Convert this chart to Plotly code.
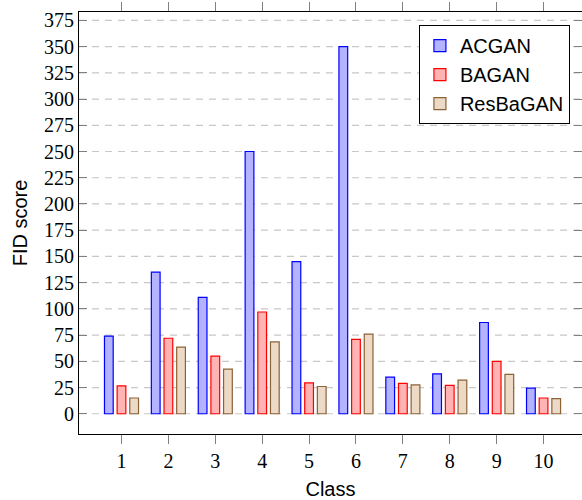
import plotly.graph_objects as go

classes = [1, 2, 3, 4, 5, 6, 7, 8, 9, 10]
acgan = [74, 135, 111, 250, 145, 350, 35, 38, 87, 24.5]
bagan = [26.5, 72, 55, 97, 29.5, 71, 29, 27, 50, 15]
resbagan = [15, 63.5, 42.5, 68.5, 26, 76, 27.5, 32, 37.5, 14.5]
yticks = list(range(0, 376, 25))

series = [
    ("ACGAN", acgan, "rgb(179,179,255)", "rgb(0,0,255)"),
    ("BAGAN", bagan, "rgb(255,179,179)", "rgb(255,0,0)"),
    ("ResBaGAN", resbagan, "rgb(236,217,198)", "rgb(140,98,55)"),
]

fig = go.Figure()
for name, vals, fill, edge in series:
    fig.add_trace(go.Bar(
        x=classes, y=vals, name=name,
        marker=dict(color=fill, line=dict(color=edge, width=1.2)),
    ))

# dashed horizontal grid lines
for t in yticks:
    fig.add_shape(type="line", xref="paper", x0=0, x1=1, yref="y", y0=t, y1=t,
                  line=dict(color="rgb(200,200,200)", width=1.2, dash="7px,6px"),
                  layer="below")

fig.update_layout(
    width=582, height=500,
    margin=dict(l=79, r=0, t=12, b=66),
    plot_bgcolor="white", paper_bgcolor="white",
    barmode="group", bargap=0.19, bargroupgap=0.31,
    showlegend=True,
    legend=dict(
        x=0.976, y=0.969, xanchor="right", yanchor="top",
        bordercolor="black", borderwidth=1, bgcolor="white",
        font=dict(family="Liberation Sans, Arial, sans-serif", size=20, color="black"),
        itemwidth=30, tracegroupgap=0,
    ),
    font=dict(family="Liberation Sans, Arial, sans-serif", color="black"),
)

fig.update_xaxes(
    range=[0.094, 10.82],
    tickmode="array", tickvals=classes, ticktext=[str(c) for c in classes],
    ticks="outside", ticklen=9, tickcolor="rgb(128,128,128)", tickwidth=1,
    showline=True, linecolor="black", linewidth=1.2, mirror="allticks",
    showgrid=False, zeroline=False,
    tickfont=dict(family="Liberation Serif, serif", size=20, color="black"),
    title=dict(text="Class", font=dict(family="Liberation Sans, Arial, sans-serif", size=20),
               standoff=12),
)
fig.update_yaxes(
    range=[-19.3, 383],
    tickmode="array", tickvals=yticks, ticktext=[str(t) for t in yticks],
    ticks="inside", ticklen=8, tickcolor="rgb(128,128,128)", tickwidth=1,
    showline=True, linecolor="black", linewidth=1.2, mirror="ticks",
    showgrid=False, zeroline=False,
    tickfont=dict(family="Liberation Serif, serif", size=20, color="black"),
    title=dict(text="FID score", font=dict(family="Liberation Sans, Arial, sans-serif", size=20),
               standoff=10),
)

fig.write_html("out.html")
